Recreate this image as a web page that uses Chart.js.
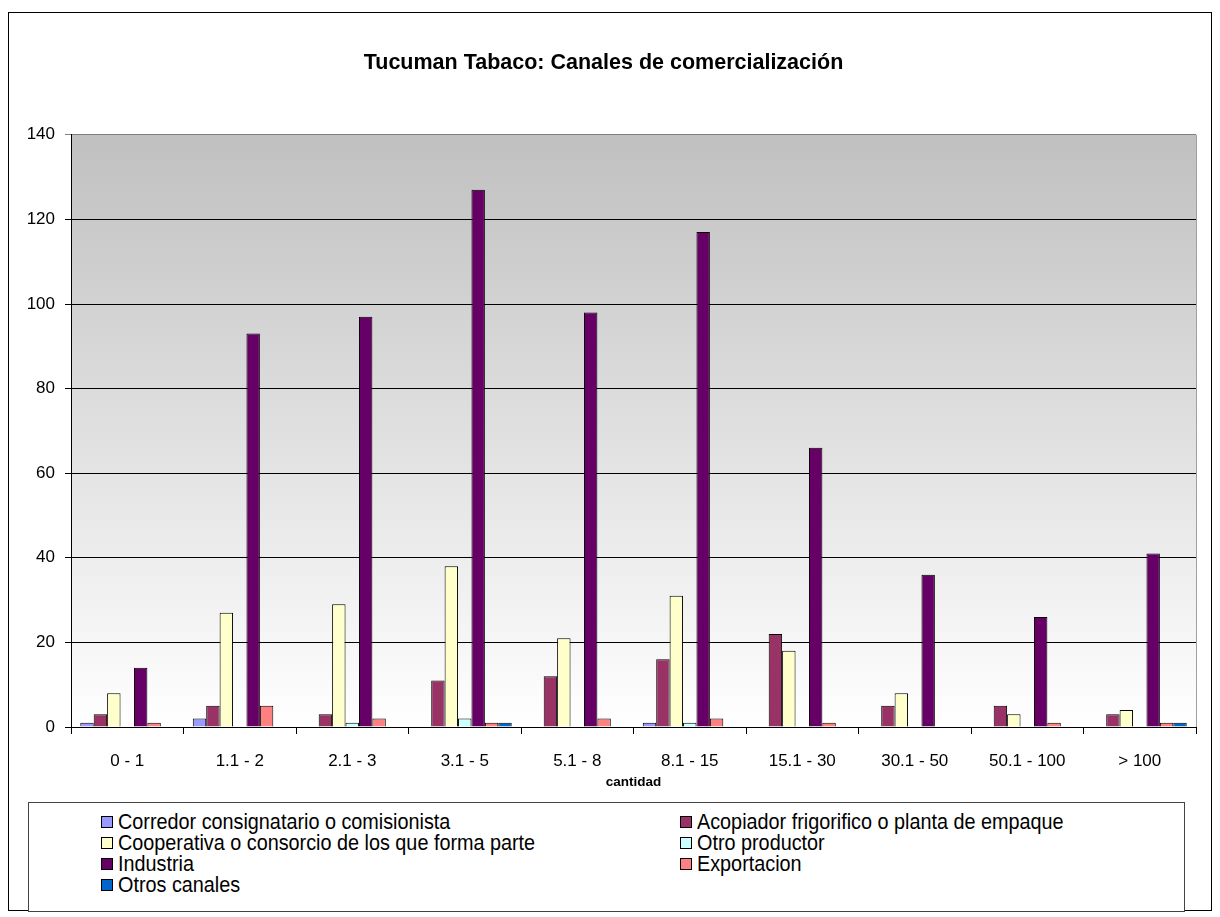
<!DOCTYPE html>
<html>
<head>
<meta charset="utf-8">
<script src="https://cdn.jsdelivr.net/npm/chart.js@4.4.1/dist/chart.umd.min.js"></script>
<style>
  html, body { margin: 0; padding: 0; background: #ffffff; }
  body { width: 1220px; height: 917px; position: relative; overflow: hidden; }
  #frame { position: absolute; left: 8px; top: 12px; width: 1204px; height: 899px; border: 1px solid #000; box-sizing: border-box; }
  #c { position: absolute; left: 0; top: 0; }
  #legend { position: absolute; left: 28px; top: 802px; width: 1157px; height: 110px; border: 1px solid #444; box-sizing: border-box; background: #fff; }
  .item { position: absolute; display: flex; align-items: center; height: 21px; white-space: nowrap; color: #000; }
  .sw { width: 10px; height: 10px; border: 1px solid #000; margin-right: 5px; flex: none; }
  .txt { display: inline-block; transform-origin: left center; }
</style>
</head>
<body>
<div id="frame"></div>
<canvas id="c" width="1220" height="917"></canvas>
<div id="legend"></div>
<script>
// ---- Data ----
const categories = ['0 - 1', '1.1 - 2', '2.1 - 3', '3.1 - 5', '5.1 - 8', '8.1 - 15', '15.1 - 30', '30.1 - 50', '50.1 - 100', '> 100'];
const seriesNames = ['Corredor consignatario o comisionista', 'Acopiador frigorifico o planta de empaque', 'Cooperativa o consorcio de los que forma parte', 'Otro productor', 'Industria', 'Exportacion', 'Otros canales'];
const corredor      = [1, 2, 0, 0, 0, 1, 0, 0, 0, 0];
const acopiador     = [3, 5, 3, 11, 12, 16, 22, 5, 5, 3];
const cooperativa   = [8, 27, 29, 38, 21, 31, 18, 8, 3, 4];
const otroProductor = [0, 0, 1, 2, 0, 1, 0, 0, 0, 0];
const industria     = [14, 93, 97, 127, 98, 117, 66, 36, 26, 41];
const exportacion   = [1, 5, 2, 1, 2, 2, 1, 0, 1, 1];
const otrosCanales  = [0, 0, 0, 1, 0, 0, 0, 0, 0, 1];
const yTicks = [0, 20, 40, 60, 80, 100, 120, 140];
const titleText = 'Tucuman Tabaco: Canales de comercialización';
const xTitle = 'cantidad';

const seriesValues = [corredor, acopiador, cooperativa, otroProductor, industria, exportacion, otrosCanales];
const seriesColors = ['#9999FF', '#993366', '#FFFFCC', '#CCFFFF', '#660066', '#FF8080', '#0066CC'];

const FAM = '"Liberation Sans", Arial, sans-serif';

// ---- Background plugin ----
const bgPlugin = {
  id: 'plotBg',
  beforeDraw(chart) {
    const a = chart.chartArea, ctx = chart.ctx;
    const g = ctx.createLinearGradient(0, a.top, 0, a.bottom);
    g.addColorStop(0, '#c0c0c0');
    g.addColorStop(1, '#ffffff');
    ctx.save();
    ctx.fillStyle = g;
    ctx.fillRect(a.left, a.top, a.right - a.left, a.bottom - a.top);
    ctx.strokeStyle = '#a0a0a0';
    ctx.lineWidth = 1;
    ctx.beginPath();
    ctx.moveTo(Math.round(a.right) + 0.5, a.top);
    ctx.lineTo(Math.round(a.right) + 0.5, a.bottom);
    ctx.stroke();
    ctx.restore();
  }
};

const datasets = seriesNames.map((name, i) => ({
  label: name,
  data: seriesValues[i],
  backgroundColor: seriesColors[i],
  borderColor: '#000000',
  borderWidth: (c) => (c.raw === 0 ? 0 : 1),
  borderSkipped: 'bottom',
  categoryPercentage: 0.835,
  barPercentage: 1.0
}));

new Chart(document.getElementById('c'), {
  type: 'bar',
  data: { labels: categories, datasets },
  plugins: [bgPlugin],
  options: {
    responsive: false,
    animation: false,
    devicePixelRatio: 1,
    layout: { padding: { left: 11, right: 24, top: 0, bottom: 123 } },
    plugins: {
      legend: { display: false },
      tooltip: { enabled: false },
      title: {
        display: true,
        text: titleText,
        color: '#000',
        font: { family: FAM, size: 21.5, weight: 'bold', lineHeight: 1.2 },
        padding: { top: 50, bottom: 59 }
      }
    },
    scales: {
      x: {
        grid: { display: true, drawOnChartArea: false, drawTicks: true, tickLength: 7, color: '#000', offset: true },
        border: { display: true, color: '#000', width: 1 },
        ticks: { color: '#000', font: { family: FAM, size: 17 }, padding: 17, maxRotation: 0, autoSkip: false },
        title: { display: true, text: xTitle, color: '#000', font: { family: FAM, size: 13.5, weight: 'bold' }, padding: { top: 2, bottom: 4 } },
        afterFit: (s) => { s.height = 67; }
      },
      y: {
        min: 0, max: 140,
        afterBuildTicks: (s) => { s.ticks = yTicks.map(v => ({ value: v })); },
        grid: { color: (c) => (c.tick && c.tick.value === 140 ? '#808080' : '#000'), lineWidth: 1, tickLength: 6, drawTicks: true },
        border: { display: true, color: '#000', width: 1 },
        ticks: { color: '#000', font: { family: FAM, size: 17 }, padding: 10 },
        afterFit: (s) => { s.width = 60; }
      }
    }
  }
});

// ---- HTML legend (two columns, as in the reference) ----
const legend = document.getElementById('legend');
const colX = [72, 651];
seriesNames.forEach((name, i) => {
  const col = i % 2, row = Math.floor(i / 2);
  const it = document.createElement('div');
  it.className = 'item';
  it.style.left = colX[col] + 'px';
  it.style.top = (8 + row * 21) + 'px';
  const sw = document.createElement('span');
  sw.className = 'sw';
  sw.style.background = seriesColors[i];
  const tx = document.createElement('span');
  tx.className = 'txt';
  tx.textContent = name;
  tx.style.fontFamily = FAM;
  tx.style.fontSize = '22px';
  tx.style.transform = 'scaleX(0.9)';
  it.appendChild(sw);
  it.appendChild(tx);
  legend.appendChild(it);
});
</script>
</body>
</html>
